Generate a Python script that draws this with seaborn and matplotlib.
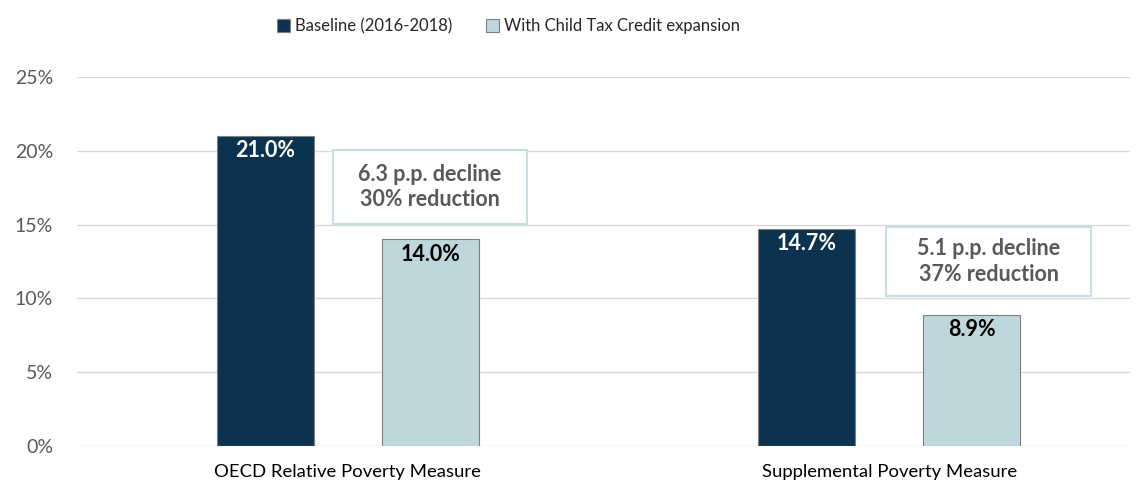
import numpy as np
import pandas as pd
import matplotlib.pyplot as plt
import seaborn as sns
from matplotlib.patches import Rectangle
from matplotlib.ticker import PercentFormatter

# data
measures = ['OECD Relative Poverty Measure', 'Supplemental Poverty Measure']
series = ['Baseline (2016-2018)', 'With Child Tax Credit expansion']
baseline = [21.0, 14.7]
with_ctc = [14.0, 8.9]
declines = ['6.3 p.p. decline\n30% reduction', '5.1 p.p. decline\n37% reduction']

df = pd.DataFrame({
    'measure': measures * 2,
    'series': [series[0]] * 2 + [series[1]] * 2,
    'rate': baseline + with_ctc,
})

sns.set_style('white')
plt.rcParams['font.family'] = ['Lato', 'DejaVu Sans']

fig = plt.figure(figsize=(11.45, 4.87), dpi=100)
ax = fig.add_axes([0.067, 0.084, 0.92, 0.758])

palette = {series[0]: '#0b3350', series[1]: '#bed7dc'}
sns.barplot(data=df, x='measure', y='rate', hue='series', palette=palette,
            width=0.61, gap=0.41, edgecolor='#7f7f7f', linewidth=0.8,
            saturation=1, ax=ax)

ax.set_ylim(0, 25)
ax.set_xlim(-0.501, 1.445)
ax.set_yticks(np.arange(0, 26, 5))
ax.yaxis.set_major_formatter(PercentFormatter(decimals=0))
ax.grid(axis='y', color='#d9d9d9', linewidth=1)
ax.set_axisbelow(True)
for s in ax.spines.values():
    s.set_visible(False)
ax.set_xlabel('')
ax.set_ylabel('')
ax.tick_params(axis='y', colors='#595959', labelsize=14, length=0, pad=17)
ax.tick_params(axis='x', colors='black', labelsize=13.3, length=0, pad=13)

# value labels inside the bars
for i, cont in enumerate(ax.containers):
    col = 'white' if i == 0 else 'black'
    for bar in cont:
        h = bar.get_height()
        ax.text(bar.get_x() + bar.get_width() / 2, h - 0.3, f'{h:.1f}%',
                ha='center', va='top', color=col, fontsize=15.5, fontweight='bold')

# decline boxes (x offset from category, width, y bottom, y top)
box_x = [-0.028, -0.0055]
box_w = [0.359, 0.378]
box_y = [(15.04, 20.05), (10.16, 14.84)]
for i, txt in enumerate(declines):
    x0 = i + box_x[i]
    y0, y1 = box_y[i]
    ax.add_patch(Rectangle((x0, y0), box_w[i], y1 - y0, fc='white', ec='#c5dfe4',
                           lw=1.5, zorder=3))
    ax.text(x0 + box_w[i] / 2, (y0 + y1) / 2, txt, ha='center', va='center',
            color='#595959', fontsize=15.5, fontweight='bold', linespacing=1.25,
            zorder=4)

handles, labels = ax.get_legend_handles_labels()
ax.legend(handles, labels, loc='upper center', bbox_to_anchor=(0.41, 1.2), ncol=2,
          frameon=False, fontsize=12, handlelength=0.8, handleheight=0.8,
          handletextpad=0.3, columnspacing=2.0)

fig.savefig('out.png', dpi=100)
